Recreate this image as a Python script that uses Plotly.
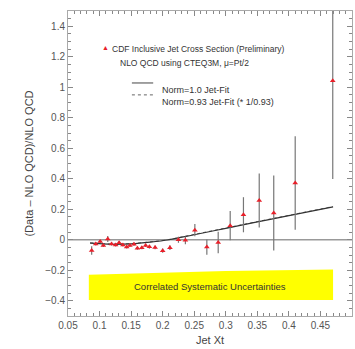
import plotly.graph_objects as go

# CDF inclusive jet cross section, (Data - NLO QCD)/NLO QCD vs jet Xt
xt = [0.0875, 0.094, 0.101, 0.106, 0.113, 0.119, 0.1255, 0.131, 0.137, 0.143,
      0.148, 0.1545, 0.160, 0.167, 0.173, 0.179, 0.188, 0.200, 0.2115, 0.225,
      0.236, 0.251, 0.270, 0.288, 0.307, 0.328, 0.353, 0.376, 0.410, 0.4695]
ratio = [-0.07, -0.028, -0.011, -0.037, 0.005, -0.028, -0.035, -0.02, -0.035, -0.048,
         -0.037, -0.03, -0.055, -0.052, -0.037, -0.046, -0.05, -0.072, -0.052, 0.0,
         -0.004, 0.063, -0.048, -0.018, 0.092, 0.164, 0.258, 0.175, 0.372, 1.043]
ratio_err = [0.028, 0.01, 0.01, 0.01, 0.02, 0.01, 0.01, 0.01, 0.01, 0.01,
             0.01, 0.01, 0.01, 0.01, 0.01, 0.012, 0.012, 0.014, 0.016, 0.02,
             0.025, 0.04, 0.05, 0.07, 0.096, 0.115, 0.177, 0.246, 0.306, 0.645]

# Jet-Fit curves
fit_x = [0.085, 0.10, 0.12, 0.15, 0.18, 0.21, 0.25, 0.30, 0.35, 0.40, 0.47]
fit_norm100 = [-0.022, -0.026, -0.03, -0.027, -0.016, 0.0, 0.033, 0.075, 0.117, 0.158, 0.216]
fit_norm093 = [-0.020, -0.024, -0.028, -0.025, -0.014, 0.002, 0.035, 0.077, 0.119, 0.160, 0.218]

# Correlated systematic uncertainty band
band_x = [0.083, 0.20, 0.30, 0.47, 0.47, 0.083]
band_y = [-0.23, -0.215, -0.205, -0.195, -0.395, -0.395]

FONT = "Liberation Sans"
GRAY = "#555555"
TEXT = "#333333"

fig = go.Figure()

fig.add_trace(go.Scatter(
    x=band_x, y=band_y, fill="toself", fillcolor="#ffff00",
    mode="lines", line=dict(width=0, color="#ffff00"), hoverinfo="skip"))

fig.add_trace(go.Scatter(
    x=[0.05, 0.5], y=[0, 0], mode="lines",
    line=dict(color="#999999", width=1.5), hoverinfo="skip"))

fig.add_trace(go.Scatter(
    x=fit_x, y=fit_norm093, mode="lines", line_shape="spline",
    line=dict(color="#666666", width=1, dash="dot")))
fig.add_trace(go.Scatter(
    x=fit_x, y=fit_norm100, mode="lines", line_shape="spline",
    line=dict(color="#333333", width=1.2)))

fig.add_trace(go.Scatter(
    x=xt, y=ratio, mode="markers",
    marker=dict(symbol="triangle-up", size=5, color="#e8202a"),
    error_y=dict(type="data", array=ratio_err, width=0, thickness=1.2, color="#777777")))

fig.add_annotation(x=0.275, y=-0.305, text="Correlated Systematic Uncertainties",
                   showarrow=False, font=dict(family=FONT, size=9.5, color=TEXT))

# key
fig.add_annotation(xref="paper", yref="paper", x=0.114, y=0.897, text="▲",
                   showarrow=False, font=dict(family=FONT, size=7, color="#e8202a"))
fig.add_annotation(xref="paper", yref="paper", x=0.148, y=0.897, xanchor="left",
                   text="CDF Inclusive Jet Cross Section (Preliminary)",
                   showarrow=False, font=dict(family=FONT, size=8.5, color=TEXT))
fig.add_annotation(xref="paper", yref="paper", x=0.176, y=0.854, xanchor="left",
                   text="NLO QCD using CTEQ3M, μ=Pt/2",
                   showarrow=False, font=dict(family=FONT, size=8.5, color=TEXT))
fig.add_shape(type="line", xref="paper", yref="paper", x0=0.225, x1=0.30, y0=0.764, y1=0.764,
              line=dict(color="#444444", width=1))
fig.add_shape(type="line", xref="paper", yref="paper", x0=0.225, x1=0.30, y0=0.725, y1=0.725,
              line=dict(color="#666666", width=1, dash="dot"))
fig.add_annotation(xref="paper", yref="paper", x=0.324, y=0.764, xanchor="left",
                   text="Norm=1.0 Jet-Fit",
                   showarrow=False, font=dict(family=FONT, size=9, color=TEXT))
fig.add_annotation(xref="paper", yref="paper", x=0.324, y=0.725, xanchor="left",
                   text="Norm=0.93 Jet-Fit (* 1/0.93)",
                   showarrow=False, font=dict(family=FONT, size=9, color=TEXT))

axis_common = dict(
    showgrid=False, zeroline=False, showline=True, linecolor="#aaaaaa", linewidth=1,
    mirror="allticks", ticks="inside", ticklen=5, tickcolor="#888888",
    tickfont=dict(family=FONT, size=10, color=GRAY),
)
fig.update_xaxes(**axis_common, range=[0.05, 0.5], tick0=0.05, dtick=0.05,
                 minor=dict(ticks="inside", ticklen=3, dtick=0.01, tickcolor="#888888"),
                 title=dict(text="Jet Xt", font=dict(family=FONT, size=11, color="#444444"),
                            standoff=6))
fig.update_yaxes(**axis_common, range=[-0.5, 1.5], tick0=0, dtick=0.2,
                 minor=dict(ticks="inside", ticklen=3, dtick=0.05, tickcolor="#888888"),
                 title=dict(text="(Data – NLO QCD)/NLO QCD",
                            font=dict(family=FONT, size=11, color="#444444"), standoff=9))

fig.update_layout(
    width=355, height=349, margin=dict(l=68, r=3, t=11, b=33),
    showlegend=False, plot_bgcolor="white", paper_bgcolor="white",
)

fig.write_html("out.html")
